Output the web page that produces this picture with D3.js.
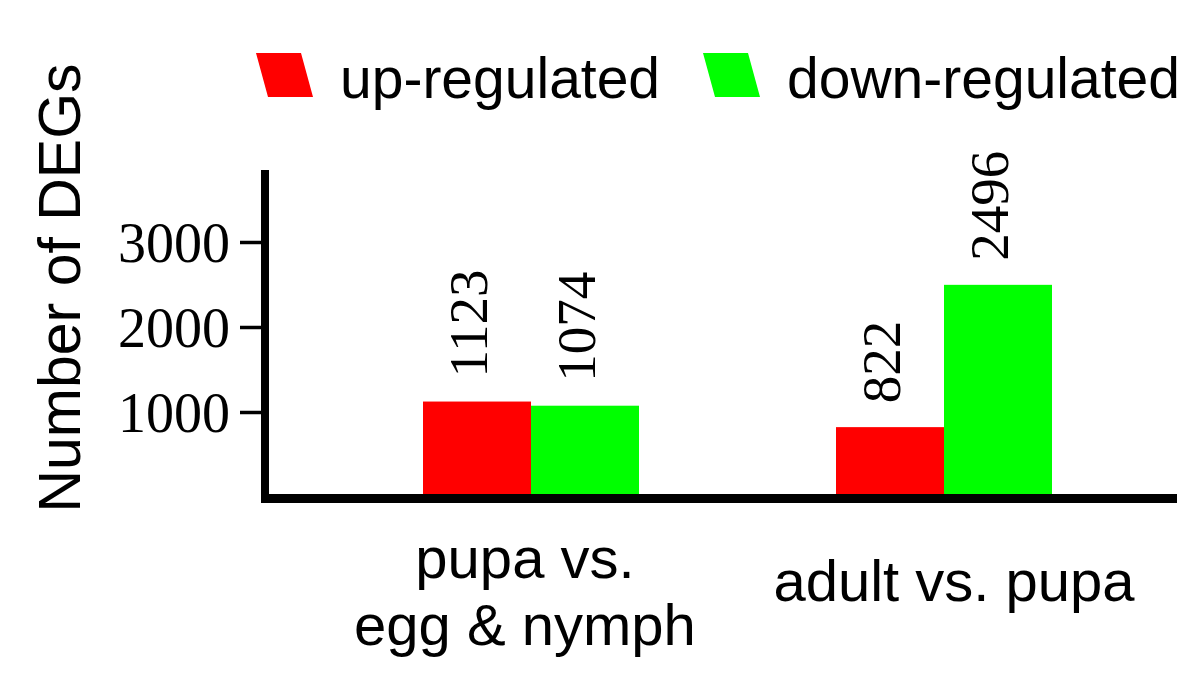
<!DOCTYPE html>
<html>
<head>
<meta charset="utf-8">
<script src="https://cdn.jsdelivr.net/npm/d3@7"></script>
<style>
  body { margin: 0; background: #fff; }
  svg { display: block; }
</style>
</head>
<body>
<div id="chart"></div>
<script>
// data
const groups = ["pupa vs. egg & nymph", "adult vs. pupa"];
const groupLines = [["pupa vs.", "egg & nymph"], ["adult vs. pupa"]];
const seriesNames = ["up-regulated", "down-regulated"];
const upValues = [1123, 822];
const downValues = [1074, 2496];
const tickValues = [1000, 2000, 3000];
const seriesColors = ["#ff0000", "#00ff00"];

const width = 1200, height = 675;
const sans = "'Liberation Sans', Arial, sans-serif";
const serif = "'Liberation Serif', 'Times New Roman', serif";

// small nudges of the category labels, as in the figure
const labelShift = [-6, 10];

const svg = d3.select("#chart").append("svg")
    .attr("width", width)
    .attr("height", height);

// scales
const x0 = d3.scaleBand()
    .domain(groups)
    .range([324.5, 1150.5])
    .paddingInner(0.477)
    .paddingOuter(0.2385);

const x1 = d3.scaleBand()
    .domain(seriesNames)
    .range([0, x0.bandwidth()])
    .padding(0);

const y = d3.scaleLinear()
    .domain([0, 3847])
    .range([497, 170]);

const color = d3.scaleOrdinal().domain(seriesNames).range(seriesColors);

const rows = groups.map((g, i) => ({
    group: g,
    values: [
        { key: seriesNames[0], value: upValues[i] },
        { key: seriesNames[1], value: downValues[i] }
    ]
}));

// bars
const gGroups = svg.selectAll(".group")
    .data(rows)
    .join("g")
    .attr("class", "group")
    .attr("transform", d => `translate(${x0(d.group)},0)`);

gGroups.selectAll("rect")
    .data(d => d.values)
    .join("rect")
    .attr("x", d => x1(d.key))
    .attr("y", d => y(d.value))
    .attr("width", x1.bandwidth())
    .attr("height", d => y(0) - y(d.value))
    .attr("fill", d => color(d.key));

// rotated value labels
gGroups.selectAll("text.val")
    .data(d => d.values)
    .join("text")
    .attr("class", "val")
    .attr("transform", d => `translate(${x1(d.key) + x1.bandwidth() / 2 + 10},${y(d.value) - 24}) rotate(-90)`)
    .attr("font-family", serif)
    .attr("font-size", 55)
    .attr("fill", "#000")
    .text(d => d.value);

// y axis
const yAxis = d3.axisLeft(y)
    .tickValues(tickValues)
    .tickSize(25)
    .tickPadding(10)
    .tickFormat(d3.format("d"));

const gy = svg.append("g")
    .attr("transform", "translate(265,0)")
    .call(yAxis);
gy.select(".domain").remove();
gy.selectAll(".tick line").attr("stroke", "#000").attr("stroke-width", 3.5);
gy.selectAll(".tick text")
    .attr("font-family", serif)
    .attr("font-size", 56)
    .attr("fill", "#000")
    .attr("dy", "0.34em");

// axis lines
svg.append("line")
    .attr("x1", 265).attr("x2", 265)
    .attr("y1", 170).attr("y2", 503)
    .attr("stroke", "#000").attr("stroke-width", 8);

svg.append("line")
    .attr("x1", 262).attr("x2", 1177)
    .attr("y1", 498.5).attr("y2", 498.5)
    .attr("stroke", "#000").attr("stroke-width", 9);

// x category labels
svg.selectAll(".xlab")
    .data(groups)
    .join("text")
    .attr("class", "xlab")
    .attr("x", (d, i) => x0(d) + x0.bandwidth() / 2 + labelShift[i])
    .attr("y", (d, i) => groupLines[i].length > 1 ? 578 : 601)
    .attr("text-anchor", "middle")
    .attr("font-family", sans)
    .attr("font-size", 58)
    .attr("fill", "#000")
    .selectAll("tspan")
    .data((d, i) => groupLines[i])
    .join("tspan")
    .attr("x", function() { return this.parentNode.getAttribute("x"); })
    .attr("dy", (d, j) => j === 0 ? 0 : 67)
    .text(d => d);

// y title
svg.append("text")
    .attr("transform", "translate(80,288) rotate(-90)")
    .attr("text-anchor", "middle")
    .attr("font-family", sans)
    .attr("font-size", 59)
    .attr("fill", "#000")
    .text("Number of DEGs");

// legend
const legendX = [256, 703];
const legend = svg.selectAll(".legend")
    .data(seriesNames)
    .join("g")
    .attr("class", "legend")
    .attr("transform", (d, i) => `translate(${legendX[i]},53)`);

legend.append("path")
    .attr("d", "M0,0 L45,0 L57,44 L12,44 Z")
    .attr("fill", d => color(d));

legend.append("text")
    .attr("x", 84)
    .attr("y", 45)
    .attr("font-family", sans)
    .attr("font-size", 57)
    .attr("fill", "#000")
    .text(d => d);
</script>
</body>
</html>
